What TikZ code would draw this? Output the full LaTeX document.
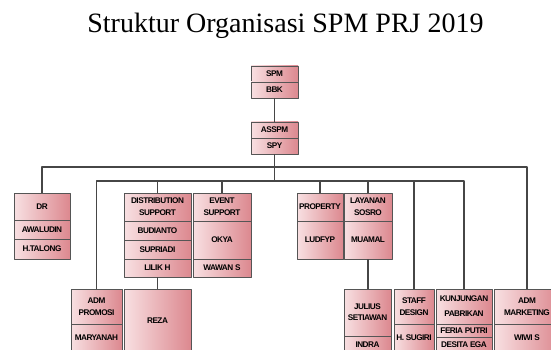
\documentclass[tikz,border=0pt]{standalone}
\usepackage{fontspec}
\setmainfont{Liberation Serif}
\setsansfont{Liberation Sans}
\newfontfamily\cellfont[LetterSpace=-6]{Liberation Sans}
\usepackage{xcolor}
\usepackage{tikz}
\usetikzlibrary{positioning, shadows}
\definecolor{orgLine}{RGB}{70, 70, 70}
\definecolor{orgEdge}{RGB}{85, 85, 85}
\definecolor{orgLight}{RGB}{248, 224, 226}
\definecolor{orgRose}{RGB}{220, 136, 143}
\tikzset{
    cell/.style={
        rectangle,
        draw=orgEdge,
        line width=0.8pt,
        left color=orgLight,
        right color=orgRose,
        text=black,
        font=\cellfont\bfseries\fontsize{8.2}{12}\selectfont,
        align=center,
        inner sep=0pt,
        outer sep=0pt,
        drop shadow={opacity=0.2, shadow xshift=0.8pt, shadow yshift=-0.8pt}
    },
    wire/.style={
        draw=orgLine,
        line width=1.2pt
    },
    title/.style={
        font=\fontsize{28}{30}\selectfont,
        anchor=base
    }
}
\begin{document}
\begin{tikzpicture}[x=1pt, y=-1pt, line join=round]
    \useasboundingbox (0,0) rectangle (551,350);
    \clip (0,0) rectangle (551,350);

    % Title
    \node[title] (head) at (285.5,33) {Struktur Organisasi SPM PRJ 2019};

    % Top
    \node[cell, minimum width=47pt, minimum height=16pt, anchor=north west] (spm1) at (251,66) {SPM};
    \node[cell, minimum width=47pt, minimum height=16pt, below=0pt of spm1] (spm2) {BBK};
    \node[cell, minimum width=47pt, minimum height=16pt, anchor=north west] (asspm1) at (251,122) {ASSPM};
    \node[cell, minimum width=47pt, minimum height=16pt, below=0pt of asspm1] (asspm2) {SPY};

    % First row
    \node[cell, minimum width=56pt, minimum height=27pt, anchor=north west] (dr1) at (14,193) {DR};
    \node[cell, minimum width=56pt, minimum height=19pt, below=0pt of dr1] (dr2) {AWALUDIN};
    \node[cell, minimum width=56pt, minimum height=20pt, below=0pt of dr2] (dr3) {H.TALONG};

    \node[cell, minimum width=67pt, minimum height=28pt, anchor=north west] (dist1) at (124,193) {DISTRIBUTION\\SUPPORT};
    \node[cell, minimum width=67pt, minimum height=19pt, below=0pt of dist1] (dist2) {BUDIANTO};
    \node[cell, minimum width=67pt, minimum height=19pt, below=0pt of dist2] (dist3) {SUPRIADI};
    \node[cell, minimum width=67pt, minimum height=18pt, below=0pt of dist3] (dist4) {LILIK H};

    \node[cell, minimum width=58pt, minimum height=28pt, anchor=north west] (event1) at (193,193) {EVENT\\SUPPORT};
    \node[cell, minimum width=58pt, minimum height=38pt, below=0pt of event1] (event2) {OKYA};
    \node[cell, minimum width=58pt, minimum height=18pt, below=0pt of event2] (event3) {WAWAN S};

    \node[cell, minimum width=46pt, minimum height=28pt, anchor=north west] (prop1) at (297,193) {PROPERTY};
    \node[cell, minimum width=46pt, minimum height=38pt, below=0pt of prop1] (prop2) {LUDFYP};

    \node[cell, minimum width=48pt, minimum height=28pt, anchor=north west] (lay1) at (344,193) {LAYANAN\\SOSRO};
    \node[cell, minimum width=48pt, minimum height=38pt, below=0pt of lay1] (lay2) {MUAMAL};

    % Second row
    \node[cell, minimum width=51pt, minimum height=35pt, anchor=north west] (promo1) at (71,289) {ADM\\PROMOSI};
    \node[cell, minimum width=51pt, minimum height=27pt, below=0pt of promo1] (promo2) {MARYANAH};

    \node[cell, minimum width=67pt, minimum height=64pt, anchor=north west] (reza) at (124,289) {REZA};

    \node[cell, minimum width=47pt, minimum height=47pt, anchor=north west, font=\cellfont\bfseries\fontsize{8.2}{11}\selectfont] (julius1) at (344,289) {JULIUS\\SETIAWAN};
    \node[cell, minimum width=47pt, minimum height=17pt, below=0pt of julius1] (julius2) {INDRA};

    \node[cell, minimum width=40pt, minimum height=35pt, anchor=north west] (staff1) at (394,289) {STAFF\\DESIGN};
    \node[cell, minimum width=40pt, minimum height=27pt, below=0pt of staff1] (staff2) {H. SUGIRI};

    \node[cell, minimum width=56pt, minimum height=35pt, anchor=north west, font=\cellfont\bfseries\fontsize{8.2}{15}\selectfont] (kunj1) at (436,289) {KUNJUNGAN\\PABRIKAN};
    \node[cell, minimum width=56pt, minimum height=13pt, below=0pt of kunj1] (kunj2) {FERIA PUTRI};
    \node[cell, minimum width=56pt, minimum height=16pt, below=0pt of kunj2] (kunj3) {DESITA EGA};

    \node[cell, minimum width=66pt, minimum height=35pt, anchor=north west] (mkt1) at (494,289) {ADM\\MARKETING};
    \node[cell, minimum width=66pt, minimum height=27pt, below=0pt of mkt1] (mkt2) {WIWI S};

    % Lines
    \coordinate (busA) at (0,167);
    \coordinate (busB) at (0,181);
    \draw[wire] (spm2) -- (asspm1);
    \draw[wire] (asspm2.south) -- (asspm2.south |- busB);
    \draw[wire] (dr1.north) |- (mkt1.north |- busA) -- (mkt1.north);
    \draw[wire] (promo1.north) |- (kunj1.north |- busB) -- (kunj1.north);
    \foreach \n in {dist1, event1, prop1, lay1, staff1}
        \draw[wire] (\n.north) -- (\n.north |- busB);
    \draw[wire] (dist4) -- (reza);
    \draw[wire] (lay2.south) -- (lay2.south |- julius1.north);
\end{tikzpicture}
\end{document}
